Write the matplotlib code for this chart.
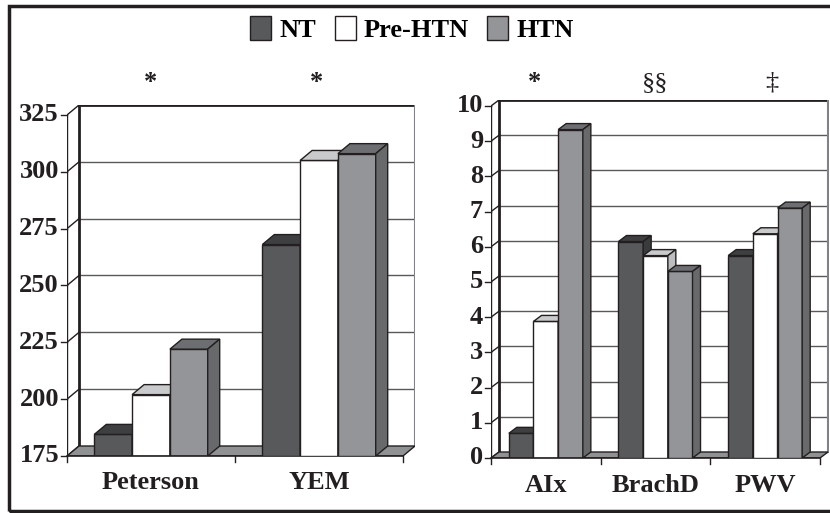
import matplotlib
matplotlib.use('Agg')
import matplotlib.pyplot as plt
from matplotlib.patches import Polygon, Rectangle, Patch

plt.rcParams['font.family'] = ['Liberation Serif', 'DejaVu Serif']
plt.rcParams['font.weight'] = 'bold'

series = ['NT', 'Pre-HTN', 'HTN']

left_cats = ['Peterson', 'YEM']
left_vals = [[184.5, 268], [202, 305], [222, 308]]   # per series
left_ticks = [175, 200, 225, 250, 275, 300, 325]
left_marks = ['*', '*']

right_cats = ['AIx', 'BrachD', 'PWV']
right_vals = [[0.7, 6.15, 5.75], [3.88, 5.75, 6.37], [9.33, 5.3, 7.1]]
right_ticks = list(range(0, 11))
right_marks = ['*', '§§', '‡']

front_col = ['#58595b', '#ffffff', '#939598']
top_col = ['#3e3f41', '#c9cacb', '#6d6e71']
side_col = ['#3a3b3d', '#bcbdbf', '#68696b']
edge = '#231f20'

W, H = 830, 513
fig = plt.figure(figsize=(W / 100, H / 100), dpi=100)


def panel(x0, x1, ytop, ybot, pxu, ymin, pyu, dxp, dyp, cats, vals, ticks, marks, mark_dx):
    # pixel box of the whole 3-d frame -> axes
    ax = fig.add_axes([x0 / W, 1 - ybot / H, (x1 - x0) / W, (ybot - ytop) / H])
    n = len(cats)
    ddx = dxp / pxu
    ddy = dyp / pyu
    ax.set_xlim(0, (x1 - x0) / pxu)
    ax.set_ylim(ymin, ymin + (ybot - ytop) / pyu)
    ax.axis('off')
    ymax = ticks[-1]

    # back wall grid
    for v in ticks[1:-1]:
        ax.plot([ddx, n + ddx], [v + ddy, v + ddy], color='#58595b', lw=1, zorder=1)
    ax.plot([ddx, n + ddx], [ymax + ddy, ymax + ddy], color=edge, lw=2, zorder=1)
    ax.plot([ddx, ddx], [ymin + ddy, ymax + ddy], color=edge, lw=2, zorder=1)
    ax.plot([n + ddx, n + ddx], [ymin + ddy, ymax + ddy], color='#808285', lw=1.5, zorder=1)
    # side wall
    for v in ticks:
        ax.plot([0, ddx], [v, v + ddy], color=edge, lw=1, zorder=1)
    ax.plot([0, 0], [ymin, ymax], color=edge, lw=1, zorder=1)
    # floor
    ax.add_patch(Polygon([(0, ymin), (n, ymin), (n + ddx, ymin + ddy), (ddx, ymin + ddy)],
                         closed=True, facecolor='#909193', edgecolor=edge, lw=1, zorder=2))
    # front axes
    ax.plot([0, n], [ymin, ymin], color=edge, lw=1.2, zorder=6, clip_on=False)
    tx = 6 / pxu
    ty = 6 / pyu
    for v in ticks:
        ax.plot([-tx, 0], [v, v], color=edge, lw=1, clip_on=False)
        ax.text(-tx - 2 / pxu, v, str(v), ha='right', va='center', fontsize=19, color='#231f20')
    for i in range(n + 1):
        ax.plot([i, i], [ymin, ymin - ty], color=edge, lw=1, clip_on=False)
    for i, c in enumerate(cats):
        ax.text(i + 0.5, ymin - 27 / pyu, c, ha='center', va='center', fontsize=19, color='#231f20')

    bw = 0.225
    z = 3
    for i in range(n):
        for j in range(3):
            v = vals[j][i]
            xl = i + 0.5 - 1.5 * bw + j * bw
            ax.bar(xl, v - ymin, bottom=ymin, width=bw, align='edge', color=front_col[j],
                   edgecolor=edge, lw=1, zorder=z)
            ax.add_patch(Polygon([(xl, v), (xl + bw, v), (xl + bw + ddx, v + ddy), (xl + ddx, v + ddy)],
                                 closed=True, facecolor=top_col[j], edgecolor=edge, lw=1, zorder=z))
            ax.add_patch(Polygon([(xl + bw, ymin), (xl + bw + ddx, ymin + ddy), (xl + bw + ddx, v + ddy),
                                  (xl + bw, v)], closed=True, facecolor=side_col[j], edgecolor=edge,
                                 lw=1, zorder=z))
            z += 1
    # significance marks above the groups
    for i, m in enumerate(marks):
        xm = x0 + (i + 0.5) * pxu + mark_dx[i]
        fig.text(xm / W, 1 - 83 / H, m, ha='center', va='center', fontsize=19,
                 fontweight='bold' if m == '*' else 'normal', color='#231f20')
    return ax


panel(67, 415, 105, 456, 168, 175, 341 / 150, 12, 10,
      left_cats, left_vals, left_ticks, left_marks, [0, -2])
panel(491, 829, 100, 458, 109.67, 0, 35.2, 8, 6,
      right_cats, right_vals, right_ticks, right_marks, [-11, 0, 7])

handles = [Patch(facecolor=front_col[j], edgecolor=edge, lw=1) for j in range(3)]
fig.legend(handles, series, loc='center', bbox_to_anchor=(412 / W, 1 - 29 / H), ncol=3,
           frameon=False, fontsize=19, handlelength=0.8, handleheight=1.0,
           handletextpad=0.3, columnspacing=0.7)

fig.patches.append(Rectangle((9 / W, 1 - 511 / H), 830 / W, 505 / H, transform=fig.transFigure,
                             fill=False, edgecolor='#231f20', lw=2.5))

fig.savefig('out.png', dpi=100, facecolor='white')
